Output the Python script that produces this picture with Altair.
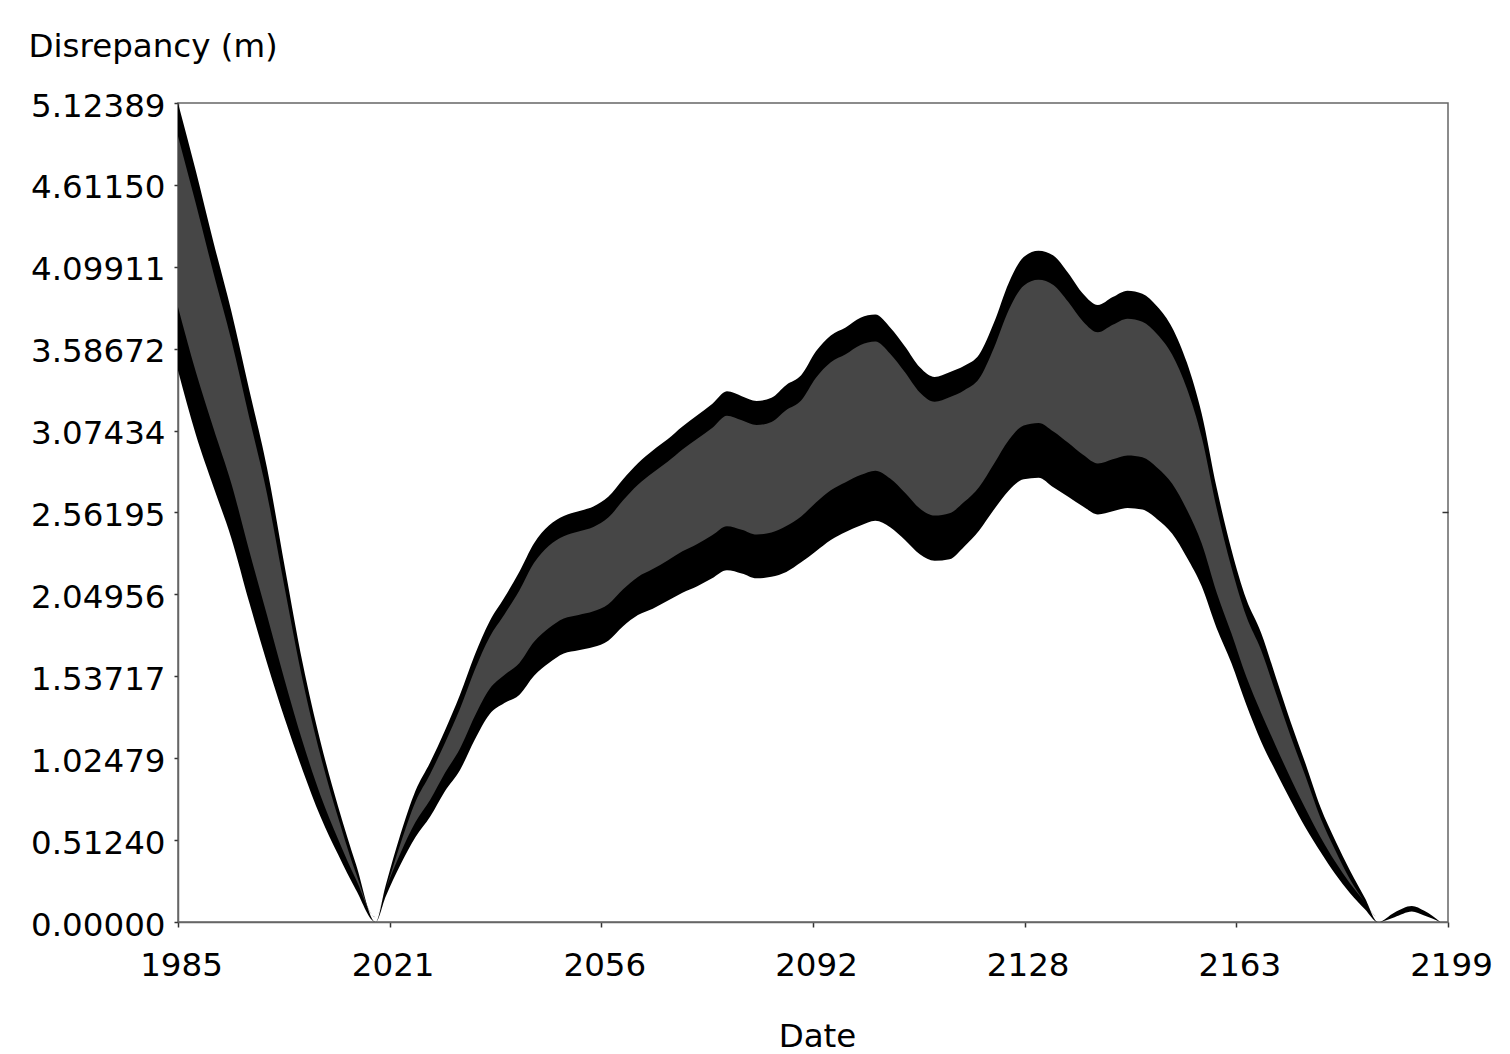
import json
import altair as alt
import pandas as pd

# ---- data (envelope of the oscillating discrepancy) ----
years = [1985, 1988, 1991, 1994, 1997, 2000, 2003, 2006, 2009, 2012, 2015, 2018.3,
         2020, 2022.5, 2025, 2027.5, 2030, 2032.5, 2035, 2037.5, 2040, 2042.5, 2045,
         2047.5, 2050, 2052.5, 2055, 2057.5, 2060, 2062.5, 2065, 2067.5, 2070, 2072.5,
         2075, 2077.5, 2080, 2082.5, 2085, 2087.5, 2090, 2092.5, 2095, 2097.5, 2100,
         2102.5, 2105, 2107.5, 2110, 2112.5, 2115, 2117.5, 2120, 2122.5, 2125, 2127.5,
         2130, 2132.5, 2135, 2137.5, 2140, 2142.5, 2145, 2147.5, 2150, 2152.5, 2155,
         2157.5, 2160, 2162.5, 2165, 2167.5, 2170, 2172.5, 2175, 2177.5, 2180, 2182.5,
         2185, 2187.2, 2190, 2192.9, 2195, 2197.7]

upper = [5.124, 4.70, 4.25, 3.82, 3.33, 2.84, 2.22, 1.62, 1.13, 0.72, 0.36, 0.0,
         0.23, 0.55, 0.82, 1.00, 1.20, 1.42, 1.67, 1.88, 2.03, 2.19, 2.37,
         2.48, 2.54, 2.57, 2.60, 2.66, 2.77, 2.87, 2.95, 3.02, 3.10, 3.17,
         3.24, 3.32, 3.29, 3.26, 3.28, 3.36, 3.42, 3.57, 3.67, 3.72, 3.78,
         3.80, 3.72, 3.60, 3.47, 3.41, 3.44, 3.48, 3.55, 3.75, 4.00, 4.16,
         4.20, 4.17, 4.06, 3.93, 3.86, 3.91, 3.95, 3.93, 3.85, 3.72, 3.50,
         3.18, 2.72, 2.33, 2.02, 1.81, 1.53, 1.25, 0.99, 0.72, 0.51, 0.32,
         0.15, 0.0, 0.06, 0.10, 0.07, 0.0]

lower = [3.45, 3.05, 2.72, 2.40, 2.00, 1.62, 1.27, 0.95, 0.66, 0.42, 0.20, 0.0,
         0.16, 0.36, 0.53, 0.66, 0.82, 0.95, 1.14, 1.30, 1.37, 1.42, 1.54,
         1.62, 1.68, 1.70, 1.72, 1.76, 1.85, 1.92, 1.96, 2.01, 2.06, 2.10,
         2.15, 2.20, 2.18, 2.15, 2.16, 2.19, 2.25, 2.32, 2.39, 2.44, 2.48,
         2.51, 2.47, 2.39, 2.30, 2.26, 2.27, 2.35, 2.45, 2.58, 2.70, 2.77,
         2.78, 2.72, 2.66, 2.60, 2.55, 2.57, 2.59, 2.58, 2.52, 2.43, 2.28,
         2.10, 1.84, 1.62, 1.36, 1.13, 0.94, 0.76, 0.59, 0.44, 0.30, 0.18,
         0.08, 0.0, 0.03, 0.065, 0.04, 0.0]

y_tick_labels = ["0.00000", "0.51240", "1.02479", "1.53717", "2.04956", "2.56195",
                 "3.07434", "3.58672", "4.09911", "4.61150", "5.12389"]
x_tick_labels = ["1985", "2021", "2056", "2092", "2128", "2163", "2199"]
x_tick_values = [1985, 2020.667, 2056.333, 2092, 2127.667, 2163.333, 2199]

y_tick_values = [float(s) for s in y_tick_labels]
df = pd.DataFrame({"year": years, "upper": upper, "lower": lower})

FONT = "DejaVu Sans"
FS = 32.5
W, H = 1270, 819

x_scale = alt.Scale(domain=[1985, 2199], nice=False, zero=False)
y_scale = alt.Scale(domain=[0, 5.12389], nice=False, zero=False)

x_axis = alt.Axis(
    values=x_tick_values,
    labelExpr=json.dumps(x_tick_labels) + "[round((datum.value-1985)/35.6667)]",
    title="Date", titleFont=FONT, titleFontSize=FS, titleFontWeight="normal",
    titleColor="black", titleX=639, titleY=124, titleAlign="center",
    titleBaseline="alphabetic",
    labelFont=FONT, labelFontSize=FS, labelColor="black", labelPadding=22,
    labelOffset=3,
    tickSize=5, tickColor="#333", tickWidth=1.5,
    domainColor="#666", domainWidth=1.5, grid=False, labelFlush=False,
)

y_axis = alt.Axis(
    values=y_tick_values,
    labelExpr=json.dumps(y_tick_labels) + "[round(datum.value/0.512389)]",
    title="Disrepancy (m)", titleFont=FONT, titleFontSize=FS,
    titleFontWeight="normal", titleColor="black", titleAngle=0,
    titleAlign="left", titleBaseline="alphabetic", titleX=-150, titleY=-47,
    labelFont=FONT, labelFontSize=FS, labelColor="black", labelPadding=9,
    labelOffset=3,
    tickSize=4, tickColor="#333", tickWidth=1.5,
    domainColor="#666", domainWidth=1.5, grid=False, labelFlush=False,
)

right_axis = alt.Axis(
    orient="right", values=[2.56195], labels=False, domain=False, title=None,
    tickSize=6, offset=-6, tickColor="#333", tickWidth=1.5, grid=False,
)

band = alt.Chart(df).mark_area(color="black", interpolate="monotone").encode(
    x=alt.X("year:Q", scale=x_scale, axis=x_axis),
    y=alt.Y("lower:Q", scale=y_scale, axis=y_axis),
    y2="upper:Q",
)

texture = alt.Chart(df).transform_calculate(
    w="datum.upper - datum.lower",
).transform_calculate(
    tlo="datum.lower + 0.22*datum.w + 0.03",
).transform_calculate(
    thi="max(datum.tlo, datum.upper - 0.1*datum.w - 0.04)",
).mark_area(color="#464646", interpolate="monotone").encode(
    x=alt.X("year:Q", scale=x_scale, axis=x_axis),
    y=alt.Y("tlo:Q", scale=y_scale, axis=right_axis),
    y2="thi:Q",
)

chart = alt.layer(band, texture).resolve_scale(y="independent").properties(
    width=W, height=H,
    autosize=alt.AutoSizeParams(type="none"),
    padding={"left": 178, "top": 103, "right": 62, "bottom": 132},
    background="white",
).configure_view(stroke="#666", strokeWidth=1.5)

chart.save("out.html", embed_options={"renderer": "svg", "actions": False})
